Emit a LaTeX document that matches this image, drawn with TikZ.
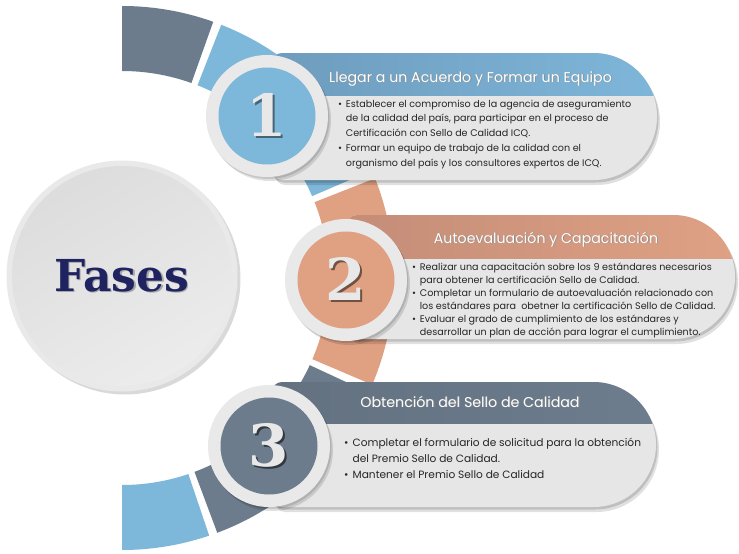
\documentclass[tikz,border=0pt]{standalone}
\usepackage{fontspec}
\setmainfont{Poppins}
\newfontfamily\numfont{DejaVu Serif}
\usetikzlibrary{shadows, positioning, calc}
\definecolor{phaseblue}{HTML}{7DB7D9}
\definecolor{phaseorange}{HTML}{E0A183}
\definecolor{phaseslate}{HTML}{6C7C8D}
\definecolor{headblueL}{HTML}{6E9CBD}
\definecolor{headblueR}{HTML}{7EB6D9}
\definecolor{headorangeL}{HTML}{C48D78}
\definecolor{headorangeR}{HTML}{DFA184}
\definecolor{headslateL}{HTML}{637180}
\definecolor{headslateR}{HTML}{6D7D8E}
\definecolor{bodygray}{HTML}{E6E6E6}
\definecolor{rimgray}{HTML}{E9E9E9}
\definecolor{fasesnavy}{HTML}{1F2461}
\definecolor{digitwhite}{HTML}{E8E8E8}
% pill shaped banner: left, top, right, bottom, radius of the right end
\newcommand{\pill}[5]{(#1,{#4+10}) -- (#1,{#2-10})
  arc[start angle=180, end angle=90, radius=10] -- ({#3-#5},#2)
  arc[start angle=90, end angle=-90, radius=#5] -- ({#1+10},#4)
  arc[start angle=270, end angle=180, radius=10] -- cycle}
% ring segment between two angles
\newcommand{\ringseg}[3]{\fill[#1, shift={(ringc)}] (#2:207)
  arc[start angle=#2, end angle=#3, radius=207] -- (#3:272)
  arc[start angle=#3, end angle=#2, radius=272] -- cycle;}
% text with a shifted shadow copy behind it: shadow colour, shift, text
\newcommand{\shadowed}[3]{\makebox[0pt][l]{\hspace*{#2}\raisebox{-#2}{\textcolor{#1}{#3}}}#3}
\newcommand{\bul}{\rule{0pt}{10pt}\makebox[0.8em][l]{\textbullet}}
\newcommand{\ind}{\hspace*{0.8em}}
\tikzset{
  % Fases circle
  fasesrim/.style={
    circle, minimum size=231pt, inner sep=0pt, fill=rimgray,
    drop shadow={shadow xshift=3pt, shadow yshift=-3pt, opacity=0.15, fill=black},
  },
  fasesdisc/.style={
    circle, minimum size=220pt, inner sep=0pt,
    top color=gray!27, bottom color=gray!15, shading angle=30,
  },
  fasestext/.style={font=\numfont\bfseries\fontsize{44}{44}\selectfont, text=fasesnavy},
  % Number circles
  numrim/.style={
    circle, minimum size=122pt, inner sep=0pt, fill=rimgray,
    drop shadow={shadow xshift=3pt, shadow yshift=-4pt, opacity=0.12, fill=black},
    drop shadow={shadow xshift=1.5pt, shadow yshift=-2pt, opacity=0.12, fill=black},
  },
  numdisc/.style={circle, minimum size=97pt, inner sep=0pt, fill=#1},
  numdigit/.style={font=\numfont\bfseries\fontsize{58}{58}\selectfont, text=digitwhite},
  % Banners
  banner/.style={
    fill=bodygray,
    drop shadow={shadow xshift=3pt, shadow yshift=-5pt, opacity=0.12, fill=black},
    drop shadow={shadow xshift=1.5pt, shadow yshift=-2.5pt, opacity=0.15, fill=black},
  },
  headtext/.style={font=\fontsize{14.2}{16}\selectfont, text=white, anchor=base},
  bodytext/.style={
    font=\fontsize{9.6}{#1}\selectfont, align=left, anchor=north west,
    inner sep=0pt, text=black!85,
  },
  bodytext/.default={14.7pt},
}
\begin{document}
\begin{tikzpicture}[x=1pt, y=1pt]
  \useasboundingbox (0,0) rectangle (739,-554);
  \coordinate (ringc) at (122,-278);

  % Outer ring
  \ringseg{phaseslate}{70.4}{90}
  \ringseg{phaseblue}{23.3}{68.6}
  \ringseg{phaseorange}{-23.1}{21.5}
  \ringseg{phaseslate}{-69.5}{-24.9}
  \ringseg{phaseblue}{-90}{-71.3}

  % Fases
  \node[fasesrim] (fasesrim) at (122,-276) {};
  \node[fasesdisc] (fasesdisc) at (fasesrim.center) {};
  \node[fasestext] (fases) at (fasesdisc.center) {\shadowed{black!35}{1.3pt}{Fases}};

  % Phase 1
  \fill[banner] \pill{272}{-53}{657}{-180}{63.5};
  \begin{scope}
    \clip \pill{272}{-53}{657}{-180}{63.5};
    \shade[left color=headblueL, right color=headblueR] (272,-53) rectangle (657,-95);
  \end{scope}
  \node[headtext] (head1) at (470.5,-82) {\shadowed{black!45}{0.8pt}{Llegar a un Acuerdo y Formar un Equipo}};
  \node[bodytext] (body1) at (338,-97) {%
    \bul Establecer el compromiso de la agencia de aseguramiento\\
    \ind de la calidad del país, para participar en el proceso de\\
    \ind Certificación con Sello de Calidad ICQ.\\
    \bul Formar un equipo de trabajo de la calidad con el\\
    \ind organismo del país y los consultores expertos de ICQ.};
  \node[numrim] (rim1) at (267,-116) {};
  \node[numdisc=phaseblue] (disc1) at (rim1.center) {};
  \node[numdigit] (digit1) at (disc1.center) {\shadowed{black!45!phaseblue}{2pt}{1}};

  % Phase 2
  \fill[banner] \pill{347}{-215}{735}{-339}{62};
  \begin{scope}
    \clip \pill{347}{-215}{735}{-339}{62};
    \shade[left color=headorangeL, right color=headorangeR] (347,-215) rectangle (735,-258);
  \end{scope}
  \node[headtext] (head2) at (546,-243) {\shadowed{black!45}{0.8pt}{Autoevaluación y Capacitación}};
  \node[bodytext=13pt] (body2) at (412,-260.5) {%
    \bul Realizar una capacitación sobre los 9 estándares necesarios\\
    \ind para obtener la certificación Sello de Calidad.\\
    \bul Completar un formulario de autoevaluación relacionado con\\
    \ind los estándares para\ \ obetner la certificación Sello de Calidad.\\
    \bul Evaluar el grado de cumplimiento de los estándares y\\
    \ind desarrollar un plan de acción para lograr el cumplimiento.};
  \node[numrim] (rim2) at (346,-280) {};
  \node[numdisc=phaseorange] (disc2) at (rim2.center) {};
  \node[numdigit] (digit2) at (disc2.center) {\shadowed{black!50!phaseorange}{2pt}{2}};

  % Phase 3
  \fill[banner] \pill{272}{-382}{656}{-507}{62.5};
  \begin{scope}
    \clip \pill{272}{-382}{656}{-507}{62.5};
    \shade[left color=headslateL, right color=headslateR] (272,-382) rectangle (656,-423);
  \end{scope}
  \node[headtext] (head3) at (470,-407) {\shadowed{black!45}{0.8pt}{Obtención del Sello de Calidad}};
  \node[bodytext=16pt, font=\fontsize{10.6}{16}\selectfont] (body3) at (344,-436) {%
    \bul Completar el formulario de solicitud para la obtención\\
    \ind del Premio Sello de Calidad.\\
    \bul Mantener el Premio Sello de Calidad};
  \node[numrim] (rim3) at (269,-446) {};
  \node[numdisc=phaseslate] (disc3) at (rim3.center) {};
  \node[numdigit] (digit3) at (disc3.center) {\shadowed{black!55!phaseslate}{2pt}{3}};

\end{tikzpicture}
\end{document}
